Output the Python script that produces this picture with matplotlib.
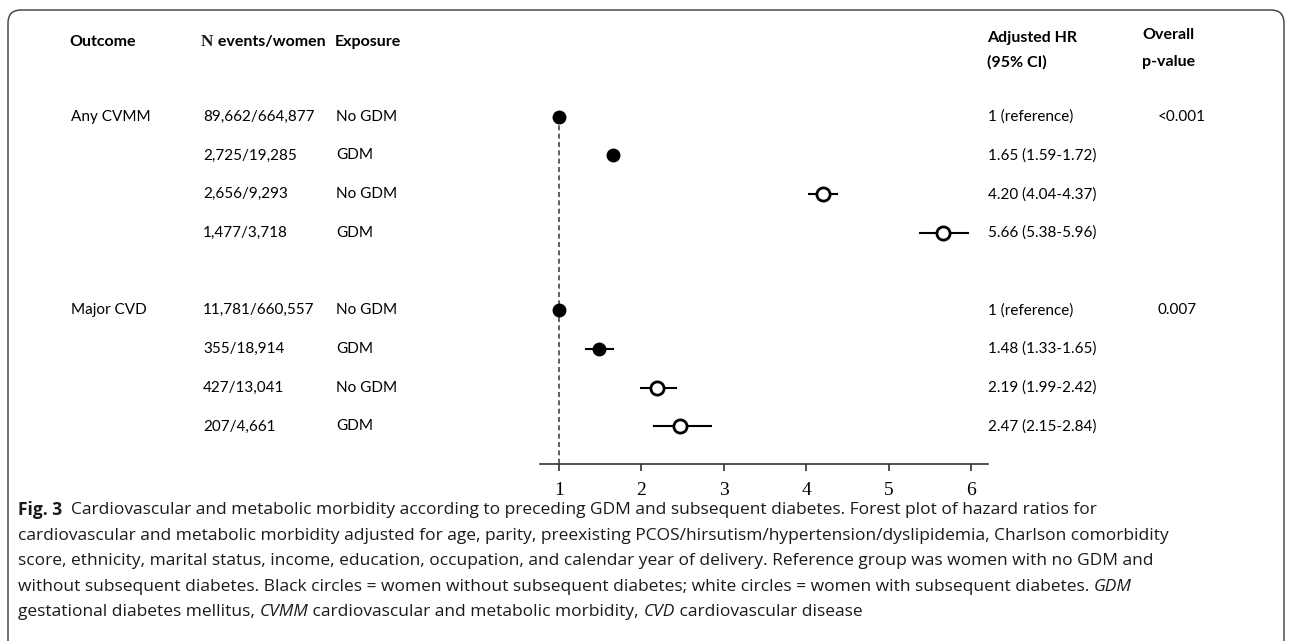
import matplotlib.pyplot as plt
from matplotlib import transforms, font_manager
from matplotlib.patches import FancyBboxPatch

# table / forest data
outcomes = ["Any CVMM", "", "", "", "Major CVD", "", "", ""]
n_events = ["89,662/664,877", "2,725/19,285", "2,656/9,293", "1,477/3,718",
            "11,781/660,557", "355/18,914", "427/13,041", "207/4,661"]
exposure = ["No GDM", "GDM", "No GDM", "GDM", "No GDM", "GDM", "No GDM", "GDM"]
hr = [1, 1.65, 4.20, 5.66, 1, 1.48, 2.19, 2.47]
ci_low = [1, 1.59, 4.04, 5.38, 1, 1.33, 1.99, 2.15]
ci_high = [1, 1.72, 4.37, 5.96, 1, 1.65, 2.42, 2.84]
subsequent_diabetes = [False, False, True, True, False, False, True, True]
hr_labels = ["1 (reference)", "1.65 (1.59-1.72)", "4.20 (4.04-4.37)", "5.66 (5.38-5.96)",
             "1 (reference)", "1.48 (1.33-1.65)", "2.19 (1.99-2.42)", "2.47 (2.15-2.84)"]
p_values = ["<0.001", "", "", "", "0.007", "", "", ""]
rows = [0, 1, 2, 3, 5, 6, 7, 8]
xticks = [1, 2, 3, 4, 5, 6]

caption = [
    [("Fig. 3", "bold", "normal"),
     ("  Cardiovascular and metabolic morbidity according to preceding GDM and subsequent diabetes. "
      "Forest plot of hazard ratios for", "normal", "normal")],
    [("cardiovascular and metabolic morbidity adjusted for age, parity, preexisting "
      "PCOS/hirsutism/hypertension/dyslipidemia, Charlson comorbidity", "normal", "normal")],
    [("score, ethnicity, marital status, income, education, occupation, and calendar year of delivery. "
      "Reference group was women with no GDM and", "normal", "normal")],
    [("without subsequent diabetes. Black circles = women without subsequent diabetes; "
      "white circles = women with subsequent diabetes. ", "normal", "normal"),
     ("GDM", "normal", "italic")],
    [("gestational diabetes mellitus, ", "normal", "normal"),
     ("CVMM", "normal", "italic"),
     (" cardiovascular and metabolic morbidity, ", "normal", "normal"),
     ("CVD", "normal", "italic"),
     (" cardiovascular disease", "normal", "normal")],
]


def pick_font(names):
    for n in names:
        try:
            font_manager.findfont(n, fallback_to_default=False)
            return n
        except ValueError:
            continue
    return "DejaVu Sans"


main_font = pick_font(["Lato", "Open Sans"])
cap_font = pick_font(["Liberation Sans Narrow", "Open Sans", "Lato"])
serif_font = "Liberation Serif"

W, H = 1292, 641
fig = plt.figure(figsize=(W / 100, H / 100), dpi=100)
renderer = fig.canvas.get_renderer()

# rounded frame around the figure panel
frame = FancyBboxPatch((0.08, -1.0), 12.76, 7.31, boxstyle="round,pad=0,rounding_size=0.13",
                       transform=fig.dpi_scale_trans, facecolor="none", edgecolor="#3a3a3a",
                       linewidth=1.0)
fig.patches.append(frame)

px_per_unit = 82.2
ax = fig.add_axes([540 / W, 1 - 464 / H, 448 / W, (464 - 78) / H])
ax.set_xlim(1 - 19 / px_per_unit, 6 + 17 / px_per_unit)
y_bottom = 8.97
ax.set_ylim(y_bottom, -1)
for s in ["left", "top", "right"]:
    ax.spines[s].set_visible(False)
ax.spines["bottom"].set_color("#333333")
ax.spines["bottom"].set_linewidth(1.2)
ax.set_yticks([])
ax.set_xticks(xticks)
ax.set_xticklabels([str(t) for t in xticks], fontfamily=serif_font, fontsize=14)
ax.tick_params(axis="x", direction="out", length=5, width=1.2, color="#333333", pad=8)
ax.patch.set_alpha(0)

ax.plot([1, 1], [rows[0], y_bottom], color="#444444", lw=1.2, ls=(0, (3, 2)), zorder=1)

for r, h, lo, hi, sd in zip(rows, hr, ci_low, ci_high, subsequent_diabetes):
    ax.plot([lo, hi], [r, r], color="black", lw=1.5, zorder=2)
    if sd:
        ax.plot(h, r, "o", ms=9.5, mfc="white", mec="black", mew=2, zorder=3)
    else:
        ax.plot(h, r, "o", ms=9, mfc="black", mec="black", zorder=3)

# table text aligned to the forest rows
trans = transforms.blended_transform_factory(fig.transFigure, ax.transData)
fs = 11
cols = [(71, outcomes), (203, n_events), (336, exposure), (988, hr_labels), (1158, p_values)]
for xpx, labels in cols:
    for r, lab in zip(rows, labels):
        if lab:
            ax.text(xpx / W, r, lab, transform=trans, fontsize=fs, fontfamily=main_font,
                    va="center", ha="left", color="black", clip_on=False)


def seg_width(text, **kw):
    t = fig.text(0, 0, text + "|", **kw)
    t2 = fig.text(0, 0, "|", **kw)
    w = t.get_window_extent(renderer).width - t2.get_window_extent(renderer).width
    t.remove()
    t2.remove()
    return w


def draw_line(x, y, segments, family, size):
    for text, weight, style in segments:
        kw = dict(fontsize=size, fontfamily=family, fontweight=weight, fontstyle=style,
                  va="center", ha="left", color="#1a1a1a")
        fig.text(x / W, 1 - y / H, text, **kw)
        x += seg_width(text, **kw)


# headers
hfs = 11.5
hdr = dict(fontsize=hfs, fontfamily=main_font, fontweight="bold", va="center", ha="left",
           color="black")
fig.text(69 / W, 1 - 42 / H, "Outcome", **hdr)
draw_line(201, 42, [("N", "bold", "normal")], serif_font, hfs + 1)
n_w = seg_width("N", fontsize=hfs + 1, fontfamily=serif_font, fontweight="bold")
fig.text((201 + n_w) / W, 1 - 42 / H, " events/women", **hdr)
fig.text(335 / W, 1 - 42 / H, "Exposure", **hdr)
fig.text(987 / W, 1 - 38 / H, "Adjusted HR", **hdr)
fig.text(987 / W, 1 - 62 / H, "(95% CI)", **hdr)
fig.text(1142 / W, 1 - 35 / H, "Overall", **hdr)
fig.text(1142 / W, 1 - 62 / H, "p-value", **hdr)

# caption, sized so the longest line fits the reference width
ref_w = seg_width(caption[1][0][0], fontsize=10, fontfamily=cap_font)
cap_size = 10 * 1147 / ref_w
cap_y = [510, 536, 561, 587, 612]
for y, segs in zip(cap_y, caption):
    draw_line(18, y, segs, cap_font, cap_size)

fig.savefig("out.png", dpi=100)
